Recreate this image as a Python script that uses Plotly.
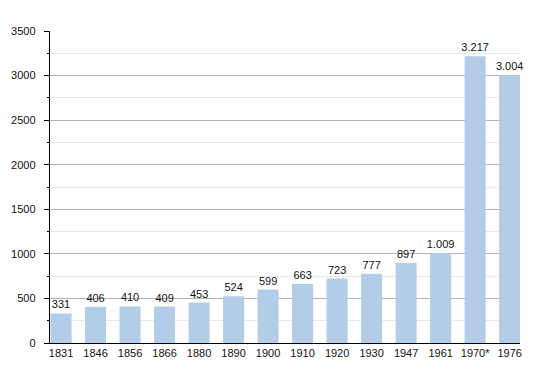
import plotly.graph_objects as go

years = ["1831", "1846", "1856", "1866", "1880", "1890", "1900", "1910", "1920", "1930", "1947", "1961", "1970*", "1976"]
population = [331, 406, 410, 409, 453, 524, 599, 663, 723, 777, 897, 1009, 3217, 3004]
labels = [f"{v:,}".replace(",", ".") for v in population]
y_ticks = [0, 500, 1000, 1500, 2000, 2500, 3000, 3500]

fig = go.Figure(go.Bar(
    x=list(range(len(years))),
    y=population,
    text=labels,
    textposition="outside",
    constraintext="none",
    textangle=0,
    textfont=dict(size=11, color="#111", family="Liberation Sans, Arial, sans-serif"),
    marker=dict(color="#b3cde8", line=dict(width=0)),
    width=0.61,
    cliponaxis=False,
    hoverinfo="skip",
))

fig.update_layout(
    width=550, height=373,
    margin=dict(l=50, r=30, t=31, b=30),
    paper_bgcolor="white",
    plot_bgcolor="white",
    showlegend=False,
    font=dict(family="Liberation Sans, Arial, sans-serif", size=11, color="#111"),
    xaxis=dict(
        tickmode="array",
        tickvals=list(range(len(years))),
        ticktext=years,
        range=[-0.32, 13.3],
        showline=True, linecolor="black", linewidth=1.2,
        ticks="", showgrid=False, zeroline=False,
        tickfont=dict(size=11),
        automargin=False,
        fixedrange=True,
    ),
    yaxis=dict(
        range=[0, 3500],
        tickvals=y_ticks,
        showline=True, linecolor="black", linewidth=1.2,
        ticks="outside", ticklen=5, tickcolor="black",
        ticklabelstandoff=6,
        showgrid=True, gridcolor="#b4b4b4", gridwidth=1,
        zeroline=False,
        tickfont=dict(size=11),
        automargin=False,
        minor=dict(dtick=250, ticks="outside", ticklen=2, tickcolor="black",
                   showgrid=True, gridcolor="#e8e8e8", gridwidth=1),
        fixedrange=True,
    ),
)

fig.write_html("out.html", config={"displayModeBar": False, "staticPlot": True},
               post_script="document.body.style.margin='0';document.body.style.padding='0';")
